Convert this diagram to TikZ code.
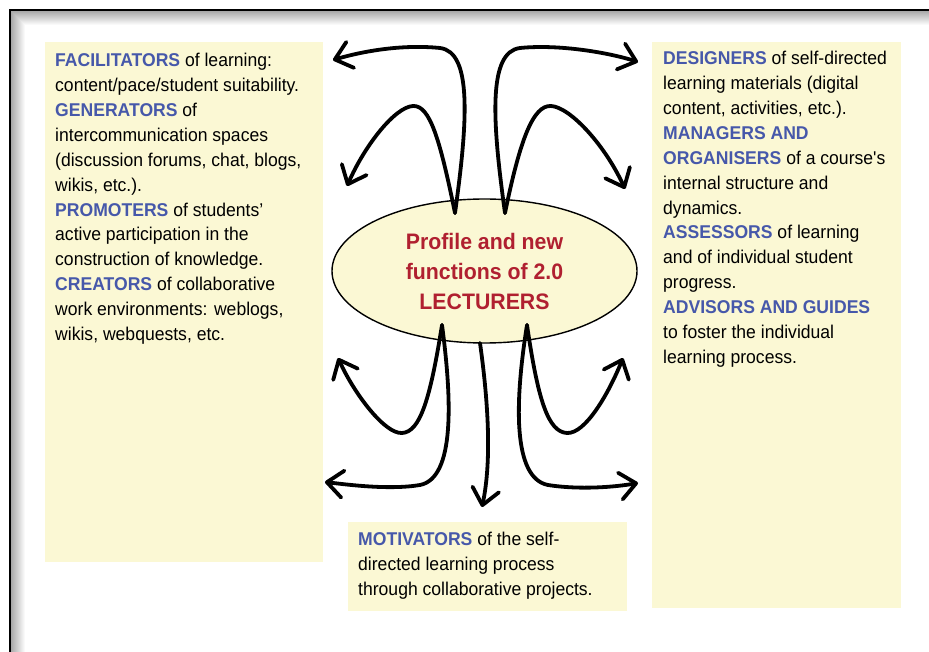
\documentclass[tikz,border=0pt]{standalone}
\usepackage{fontspec}
\setmainfont{Liberation Sans}[FakeStretch=0.95]
\usetikzlibrary{arrows.meta,shapes.geometric}
\definecolor{notefill}{RGB}{251,248,212}
\definecolor{rolblue}{RGB}{70,88,170}
\definecolor{lectred}{RGB}{176,32,48}
\newcommand{\rolename}[1]{\textcolor{rolblue}{\textbf{#1}}}
\tikzset{
  notebox/.style={fill=notefill},
  notetext/.style={anchor=north west, inner sep=0pt, align=left,
    font=\fontsize{18.5}{24.9}\selectfont},
  fanarrow/.style={line width=3.8pt, line cap=round, line join=round,
    -{Straight Barb[length=16pt,width=27pt,round]}}
}
\begin{document}
\begin{tikzpicture}[x=1pt,y=-1pt]
  \useasboundingbox (0,0) rectangle (929,652);
  % frame with inner shadow, cut by the page edge
  \foreach \i in {0,...,15}{
    \pgfmathsetmacro{\shd}{36-\i*2.4}
    \draw[line width=1.05pt, black!\shd] (11+\i,652) -- (11+\i,11+\i) -- (929,11+\i);
  }
  \draw[line width=2pt] (10,652) -- (10,10) -- (929,10);
  % yellow note areas
  \fill[notebox] (45,42) rectangle (323,562);
  \fill[notebox] (652,42) rectangle (901,608);
  \fill[notebox] (348,522) rectangle (627,611);
  \node[notetext] (facil) at (55,53) {%
    \rolename{FACILITATORS} of learning:\\
    content/pace/student suitability.\\
    \rolename{GENERATORS} of\\
    intercommunication spaces\\
    (discussion forums, chat, blogs,\\
    wikis, etc.).\\
    \rolename{PROMOTERS} of students’\\
    active participation in the\\
    construction of knowledge.\\
    \rolename{CREATORS} of collaborative\\
    work environments: weblogs,\\
    wikis, webquests, etc.};
  \node[notetext] (design) at (663,51) {%
    \rolename{DESIGNERS} of self-directed\\
    learning materials (digital\\
    content, activities, etc.).\\
    \rolename{MANAGERS AND}\\
    \rolename{ORGANISERS} of a course\textquotesingle s\\
    internal structure and\\
    dynamics.\\
    \rolename{ASSESSORS} of learning\\
    and of individual student\\
    progress.\\
    \rolename{ADVISORS AND GUIDES}\\
    to foster the individual\\
    learning process.};
  \node[notetext] (motiv) at (358,532) {%
    \rolename{MOTIVATORS} of the self-\\
    directed learning process\\
    through collaborative projects.};
  % central ellipse
  \node[ellipse, draw, line width=1.4pt, fill=notefill, minimum width=305pt,
    minimum height=144pt, text=lectred, align=center,
    font=\fontsize{22.4}{30}\selectfont\bfseries] (lect) at (484.5,271)
    {Profile and new\\functions of 2.0\\LECTURERS};
  % roots of the arrows, inside the ellipse
  \coordinate (rtl) at (455,213);
  \coordinate (rtr) at (505,213);
  \coordinate (rbl) at (442,325);
  \coordinate (rbr) at (527,325);
  \coordinate (rbm) at (480,343);
  % arrow tips
  \coordinate (ttl1) at (333,60);
  \coordinate (ttl2) at (347,186);
  \coordinate (ttr1) at (638,62);
  \coordinate (ttr2) at (625,189);
  \coordinate (tbl1) at (325,482);
  \coordinate (tbl2) at (338,358);
  \coordinate (tbr1) at (638,483);
  \coordinate (tbr2) at (623,358);
  \coordinate (tbm) at (482,507);
  % top fan
  \draw[fanarrow] (rtl) .. controls (468,120) and (472,52) .. (440,48)
    .. controls (400,44) and (360,52) .. (ttl1);
  \draw[fanarrow] (rtl) .. controls (440,140) and (430,105) .. (413,106)
    .. controls (395,107) and (365,145) .. (ttl2);
  \draw[fanarrow] (rtr) .. controls (492,120) and (488,52) .. (520,48)
    .. controls (560,44) and (610,53) .. (ttr1);
  \draw[fanarrow] (rtr) .. controls (520,140) and (533,105) .. (551,106)
    .. controls (570,107) and (605,145) .. (ttr2);
  % bottom fan
  \draw[fanarrow] (rbl) .. controls (452,400) and (455,478) .. (420,485)
    .. controls (390,490) and (350,485) .. (tbl1);
  \draw[fanarrow] (rbl) .. controls (430,400) and (420,432) .. (402,433)
    .. controls (385,434) and (355,395) .. (tbl2);
  \draw[fanarrow] (rbr) .. controls (515,400) and (512,478) .. (548,485)
    .. controls (580,490) and (615,487) .. (tbr1);
  \draw[fanarrow] (rbr) .. controls (538,400) and (548,432) .. (567,433)
    .. controls (585,434) and (608,395) .. (tbr2);
  \draw[fanarrow] (rbm) .. controls (488,400) and (492,460) .. (tbm);
\end{tikzpicture}
\end{document}
